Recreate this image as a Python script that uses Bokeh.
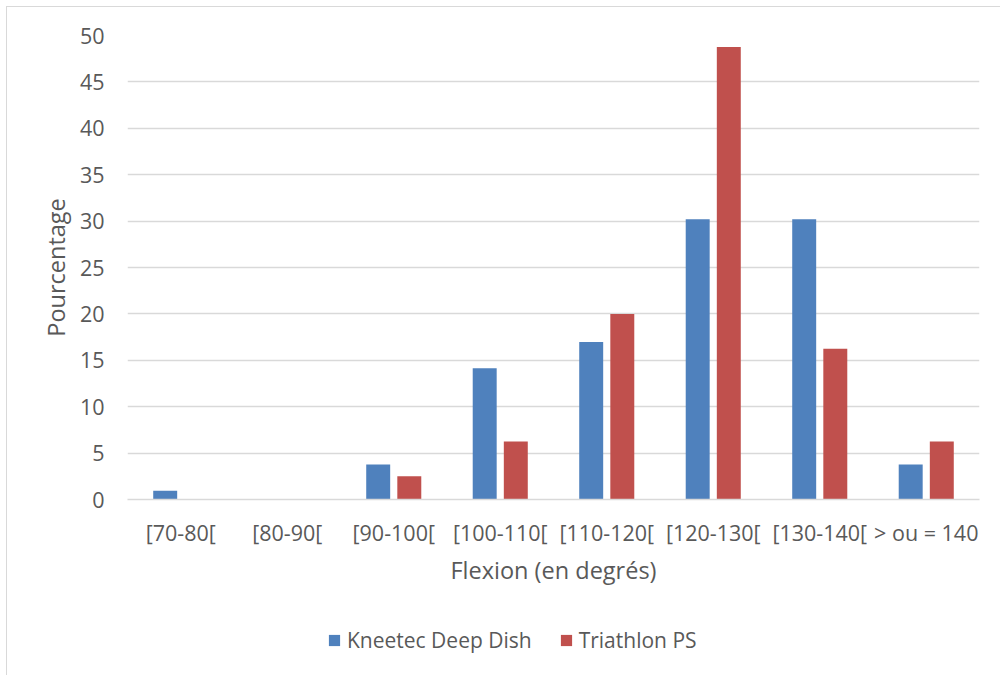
from bokeh.plotting import figure
from bokeh.layouts import column
from bokeh.models import FactorRange, Range1d, Legend, LegendItem, FixedTicker, ColumnDataSource
from bokeh.transform import dodge
from bokeh.embed import file_html
from bokeh.resources import INLINE

categories = ["[70-80[", "[80-90[", "[90-100[", "[100-110[", "[110-120[", "[120-130[", "[130-140[", "> ou = 140"]
kneetec = [0.94, 0.0, 3.77, 14.15, 16.98, 30.19, 30.19, 3.77]
triathlon = [0.0, 0.0, 2.5, 6.25, 20.0, 48.75, 16.25, 6.25]
y_ticks = [0, 5, 10, 15, 20, 25, 30, 35, 40, 45, 50]
series_names = ["Kneetec Deep Dish", "Triathlon PS"]
series_colors = ["#4f81bd", "#c0504d"]

FONT = "Open Sans"
TXT = "#595959"
GRID = "#d9d9d9"

src = ColumnDataSource(dict(cat=categories, k=kneetec, t=triathlon))

p = figure(width=993, height=610, output_backend="svg", toolbar_location=None,
           x_range=FactorRange(*categories, range_padding=0), y_range=Range1d(0, 50),
           min_border_left=120, min_border_right=21, min_border_top=28, min_border_bottom=118)
p.outline_line_color = None
p.background_fill_color = "white"
p.border_fill_color = "white"

p.vbar(x=dodge("cat", -0.146, range=p.x_range), top="k", width=0.225, source=src,
       fill_color=series_colors[0], line_color=None)
p.vbar(x=dodge("cat", 0.146, range=p.x_range), top="t", width=0.225, source=src,
       fill_color=series_colors[1], line_color=None)

p.xgrid.grid_line_color = None
p.ygrid.grid_line_color = GRID
p.ygrid.grid_line_width = 1.3
p.ygrid.ticker = FixedTicker(ticks=y_ticks)

p.yaxis.ticker = FixedTicker(ticks=y_ticks)
p.yaxis.axis_line_color = None
p.yaxis.major_tick_line_color = None
p.yaxis.minor_tick_line_color = None
p.yaxis.major_tick_out = 0
p.yaxis.major_label_standoff = 23
p.yaxis.major_label_text_font = FONT
p.yaxis.major_label_text_font_size = "21.5px"
p.yaxis.major_label_text_color = TXT
p.yaxis.axis_label = "Pourcentage"
p.yaxis.axis_label_text_font = FONT
p.yaxis.axis_label_text_font_size = "23.5px"
p.yaxis.axis_label_text_font_style = "normal"
p.yaxis.axis_label_text_color = TXT
p.yaxis.axis_label_standoff = 5

p.xaxis.axis_line_color = GRID
p.xaxis.axis_line_width = 1.3
p.xaxis.major_tick_line_color = None
p.xaxis.minor_tick_line_color = None
p.xaxis.major_tick_out = 0
p.xaxis.major_label_standoff = 18
p.xaxis.major_label_text_font = FONT
p.xaxis.major_label_text_font_size = "21.5px"
p.xaxis.major_label_text_color = TXT
p.xaxis.axis_label = "Flexion (en degrés)"
p.xaxis.axis_label_text_font = FONT
p.xaxis.axis_label_text_font_size = "23.5px"
p.xaxis.axis_label_text_font_style = "normal"
p.xaxis.axis_label_text_color = TXT
p.xaxis.axis_label_standoff = 4

# legend strip (swatch glyphs sit outside the strip's visible range)
pl = figure(width=993, height=58, output_backend="svg", toolbar_location=None,
            x_range=Range1d(0, 1), y_range=Range1d(0, 1), min_border=0)
pl.axis.visible = False
pl.grid.visible = False
pl.outline_line_color = None
pl.border_fill_color = "white"
swatch_src = ColumnDataSource(dict(x=[-5.0], top=[-5.0]))
swatches = [pl.vbar(x="x", top="top", width=0.1, source=swatch_src, fill_color=c, line_color=None)
            for c in series_colors]
legend = Legend(items=[LegendItem(label=n, renderers=[r]) for n, r in zip(series_names, swatches)],
                orientation="horizontal", location=(200, 21),
                label_text_font=FONT, label_text_font_size="21px", label_text_color=TXT,
                glyph_width=14, glyph_height=14, spacing=27, label_standoff=6,
                padding=0, margin=0,
                border_line_color=None, background_fill_alpha=0)
pl.add_layout(legend, "center")

layout = column(p, pl, spacing=0)
layout.styles = {"margin-left": "6px", "margin-top": "6px",
                 "border-left": "1px solid #d9d9d9", "border-top": "1px solid #d9d9d9"}

open("out.html", "w").write(file_html(layout, INLINE))
